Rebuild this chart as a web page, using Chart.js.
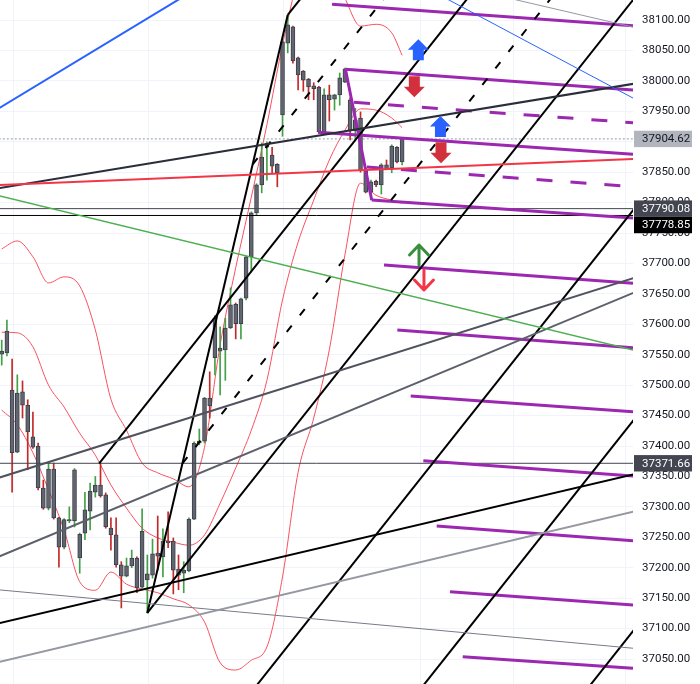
<!DOCTYPE html>
<html><head><meta charset="utf-8">
<script src="https://cdn.jsdelivr.net/npm/chart.js@4.4.0/dist/chart.umd.min.js"></script>
<style>html,body{margin:0;padding:0;background:#fff;}#wrap{width:700px;height:684px;position:relative;}</style>
</head><body><div id="wrap"><canvas id="c"></canvas></div>
<script>
// ---- candles (index = bar number) ----
const opens  = [37551,37553,37492,37390,37489,37467,37415,37400,37331,37298,37362,37282,37234,37277,37277,37216,37257,37293,37324,37336,
                37320,37265,37254,37205,37186,37203,37216,37168,37180,37188,37224,37218,37244,37244,37198,37191,37195,37280,37405,37408,
                37479,37545,37556,37558,37594,37633,37601,37643,37711,37783,37829,37891,37878,37863,37944,38062,38089,38038,38016,38003,
                37992,37990,37916,37977,37970,37977,37998,37969,37918,37939,37854,37817,37835,37829,37862,37857,37891,37867];
const highs  = [37574,37607,37543,37517,37507,37476,37456,37405,37344,37372,37372,37283,37281,37300,37363,37257,37324,37339,37350,37371.66,
                37323,37282,37282,37210,37216,37229,37218,37297,37221,37247,37285,37264,37292,37249,37221,37210,37282,37407,37428,37480,
                37522,37614,37596,37610,37660,37635,37643,37712,37785,37831,37898,37900,37891,37864,38066,38108.3,38090,38039,38017,38004,
                37997,37991,37987,37993,37978,38013,38021,37972,37955,37949,37857,37837,37837,37864,37870,37895,37892,37905.5];
const lows   = [37533,37548,37324,37389,37446,37361,37396,37328,37296,37295,37280,37201,37231,37274,37267,37191,37246,37262,37316,37316,
                37265,37229,37201,37134,37185,37200,37159,37167,37125.7,37183,37196,37185,37233,37157,37164,37159,37193,37279,37402,37405,
                37446,37517,37484,37508,37593,37576,37576,37640,37686,37780,37816,37837,37849,37826,37909,38046,38029,37985,37983,37969,
                37969,37914,37914,37934,37952,37960,37997,37903,37903,37850,37816,37804.3,37826,37814,37854,37849,37865,37862];
const closes = [37556,37589,37389,37487,37467,37423,37398,37331,37298,37362,37282,37234,37279,37279,37361,37255,37295,37326,37336,37318,
                37267,37254,37205,37186,37203,37216,37167,37260,37190,37223,37219,37244,37241,37196,37188,37196,37280,37405,37408,37479,
                37466,37610,37561,37594,37632,37601,37642,37711,37783,37829,37875,37898,37860,37849,38064,38092,38033,38010,38001,37990,
                37987,37916,37977,37969,37977,38005,38020,37918,37936,37852,37817,37834,37829,37862,37855,37893,37867,37904.62];

// ---- bands (sampled at bar numbers) ----
const bandIdx    = [0,3,6,9,12,15,18,21,24,27,30,33,36,39,42,45,48,51,54,57,60,63,66,69,72,75,77];
const upperBand  = [37724,37737,37711,37668,37678,37663,37591,37477,37426,37372,37356,37346,37333,37398,37566,37693,37809,37928,38059,38166,38205,38195,38136,38090,38093,38079,38042];
const middleBand = [37587,37586,37563,37500,37464,37421,37385,37336,37298,37265,37249,37242,37237,37254,37306,37364,37426,37508,37640,37735,37804,37870,37919,37954,37952,37939,37923];
const lowerBand  = [37459,37435,37389,37328,37262,37177,37163,37193,37173,37165,37159,37149,37139,37111,37044,37032,37048,37070,37185,37357,37446,37558,37714,37832,37812,37804,37799];

// ---- axis ----
const yTicks = [37050,37100,37150,37200,37250,37300,37350,37400,37450,37500,37550,37600,37650,37700,37750,37800,37850,37900,37950,38000,38050,38100];
const gridX  = [2.2, 28.1, 54.1, 80.4, 98.3, 119.9];
const priceLabels = [37904.62, 37790.08, 37778.85, 37371.66];

// ---- drawings (bar number, price) ----
const blueTrend      = [[-0.71, 37954], [35.44, 38141]];
const blueThin       = [[85.25, 38136.4], [122.75, 37965.6]];
const grayThinTop    = [[97.75, 38135.5], [122.75, 38085.7]];
const redTrend       = [[-1.29, 37828.6], [122.75, 37872.1]];
const darkTrend      = [[-1.29, 37822.7], [122.75, 37997.0]];
const greenTrend     = [[-1.29, 37812.8], [122.75, 37555.0]];
const grayTrend1     = [[-1.29, 37345.9], [122.75, 37679.4]];
const grayTrend2     = [[-1.29, 37215.8], [122.75, 37656.2]];
const lightGrayTrend = [[-1.29, 37043.6], [122.75, 37294.9]];
const thinGrayTrend  = [[-1.29, 37164.3], [122.75, 37066.7]];
const blackTrend     = [[-1.29, 37107.2], [122.75, 37356.0]];

const purpleTop      = [[63.52, 38125.8], [121.4, 38090.7]];
const purpleUpper    = [[66.1, 38019.0], [121.4, 37985.0]];
const purpleHandle   = [[66.1, 38019.0], [71.15, 37804.3]];
const purpleMidDash  = [[67.75, 37964.8], [121.4, 37931.3]];
const purpleMid      = [[60.83, 37915.5], [121.4, 37879.4]];
const purpleLowDash  = [[70.25, 37858.5], [121.4, 37826.1]];
const purpleLow      = [[71.15, 37804.3], [121.4, 37774.7]];
const levelStartIdx   = [73.52, 76.08, 78.65, 81.08, 83.65, 86.21, 88.65];
const levelStartPrice = [37697.5, 37590.7, 37482.2, 37375.9, 37268.6, 37160.7, 37053.9];
const levelEndPrice   = [37667.4, 37561.6, 37456.4, 37350.8, 37244.4, 37138.8, 37034.8];

const pfIdx   = [18.75, 28, 55];
const pfPrice = [37371.66, lows[28], highs[55]];
const pfLowerLevels = [0.5, 1, 2, 3, 4];
const pfUpperLevels = [0.5, 1];

const arrowIdx   = [80.12, 79.35, 84.37, 84.48, 80.25, 81.2];
const arrowPrice = [38068.3, 37973.0, 37942.3, 37864.6, 37730.3, 37656.4];
const arrowKind  = ['blueUp', 'redDown', 'blueUp', 'redDown', 'greenUpLine', 'redDownLine'];

// ---- build ----
const X_MIN = -0.33, X_MAX = 121.4, Y_MIN = 37009.0, Y_MAX = 38132.9;
const pts = a => a.map(p => ({x: p[0], y: p[1]}));
function seg(points, color, width, dash, order) {
  return {type: 'line', data: pts(points), borderColor: color, borderWidth: width,
          borderDash: dash || [], pointRadius: 0, fill: false, tension: 0, order: order || 1, clip: 0,
          borderCapStyle: 'butt'};
}
const datasets = [];

// bands
[upperBand, middleBand, lowerBand].forEach(b => {
  datasets.push({type: 'line', data: bandIdx.map((x, k) => ({x, y: b[k]})), borderColor: '#f7525f',
    borderWidth: 1, pointRadius: 0, fill: false, cubicInterpolationMode: 'monotone', order: 20, clip: 0});
});

// candles
const bars = opens.map((_, i) => i);
const wickColors = bars.map(i => closes[i] >= opens[i] ? '#43a047' : '#c62828');
datasets.push({type: 'bar', data: bars.map(i => ({x: i, y: [lows[i], highs[i]]})),
  backgroundColor: wickColors, barThickness: 1, grouped: false, order: 12});
datasets.push({type: 'bar', data: bars.map(i => {
    let lo = Math.min(opens[i], closes[i]), hi = Math.max(opens[i], closes[i]);
    if (hi - lo < 1.6) { const m = (hi + lo) / 2; lo = m - 0.8; hi = m + 0.8; }
    return {x: i, y: [lo, hi]};
  }),
  backgroundColor: '#62656f', borderColor: '#3d404a', borderWidth: 1, borderSkipped: false,
  barThickness: 4, grouped: false, order: 11});

// horizontal levels
datasets.push(seg([[X_MIN - 1, priceLabels[0]], [X_MAX + 1, priceLabels[0]]], '#9598a1', 1, [2, 2], 3));
datasets.push(seg([[X_MIN - 1, priceLabels[1]], [X_MAX + 1, priceLabels[1]]], '#434651', 1, [], 3));
datasets.push(seg([[X_MIN - 1, priceLabels[2]], [X_MAX + 1, priceLabels[2]]], '#000000', 1, [], 3));
datasets.push(seg([[X_MIN - 1, priceLabels[3]], [X_MAX + 1, priceLabels[3]]], '#434651', 1, [], 3));

// trend lines
datasets.push(seg(blueTrend, '#2962ff', 2));
datasets.push(seg(blueThin, '#2962ff', 1));
datasets.push(seg(grayThinTop, '#9598a1', 1));
datasets.push(seg(redTrend, '#f23645', 2));
datasets.push(seg(darkTrend, '#2a2e39', 2));
datasets.push(seg(greenTrend, '#4caf50', 1.6));
datasets.push(seg(grayTrend1, '#50535e', 2));
datasets.push(seg(grayTrend2, '#5d606b', 2));
datasets.push(seg(lightGrayTrend, '#9598a1', 2));
datasets.push(seg(thinGrayTrend, '#787b86', 1));
datasets.push(seg(blackTrend, '#000000', 2));

// pitchfork
const P1 = {x: pfIdx[0], y: pfPrice[0]}, P2 = {x: pfIdx[1], y: pfPrice[1]}, P3 = {x: pfIdx[2], y: pfPrice[2]};
const M = {x: (P2.x + P3.x) / 2, y: (P2.y + P3.y) / 2};
const dir = {x: M.x - P1.x, y: M.y - P1.y};
const ray = S => [[S.x, S.y], [S.x + dir.x * 8, S.y + dir.y * 8]];
datasets.push(seg([[P2.x, P2.y], [P3.x, P3.y]], '#000000', 2));
datasets.push(seg(ray(P1), '#000000', 2));
pfLowerLevels.forEach(k => {
  const S = {x: M.x + k * (P2.x - M.x), y: M.y + k * (P2.y - M.y)};
  datasets.push(seg(ray(S), '#000000', 2, k % 1 ? [8, 13] : []));
});
pfUpperLevels.forEach(k => {
  const S = {x: M.x + k * (P3.x - M.x), y: M.y + k * (P3.y - M.y)};
  datasets.push(seg(ray(S), '#000000', 2, k % 1 ? [8, 13] : []));
});

// purple
const PURPLE = '#9c27b0';
[purpleTop, purpleUpper, purpleHandle, purpleMid, purpleLow].forEach(s => datasets.push(seg(s, PURPLE, 3, [], 0)));
[purpleMidDash, purpleLowDash].forEach(s => datasets.push(seg(s, PURPLE, 3, [16, 18], 0)));
levelStartIdx.forEach((x, k) => datasets.push(seg([[x, levelStartPrice[k]], [X_MAX, levelEndPrice[k]]], PURPLE, 3, [], 0)));

// ---- plugins ----
const gridPlugin = {
  id: 'vgrid',
  beforeDatasetsDraw(chart) {
    const {ctx, chartArea: a, scales: {x}} = chart;
    ctx.save(); ctx.strokeStyle = '#f0f3fa'; ctx.lineWidth = 1;
    gridX.forEach(v => { const px = Math.round(x.getPixelForValue(v)) + 0.5;
      ctx.beginPath(); ctx.moveTo(px, a.top); ctx.lineTo(px, a.bottom); ctx.stroke(); });
    ctx.restore();
  }
};
const overlayPlugin = {
  id: 'overlay',
  afterDatasetsDraw(chart) {
    const {ctx, scales: {x, y}} = chart;
    ctx.save();
    arrowIdx.forEach((v, k) => {
      const px = x.getPixelForValue(v), py = y.getPixelForValue(arrowPrice[k]);
      const kind = arrowKind[k];
      if (kind === 'blueUp' || kind === 'redDown') {
        const s = kind === 'blueUp' ? 1 : -1;
        ctx.fillStyle = kind === 'blueUp' ? '#2962ff' : '#d1303c';
        ctx.beginPath();
        ctx.moveTo(px, py);
        ctx.lineTo(px + 10.5, py + s * 10.5);
        ctx.lineTo(px + 5.5, py + s * 10.5);
        ctx.lineTo(px + 5.5, py + s * 21);
        ctx.lineTo(px - 5.5, py + s * 21);
        ctx.lineTo(px - 5.5, py + s * 10.5);
        ctx.lineTo(px - 10.5, py + s * 10.5);
        ctx.closePath(); ctx.fill();
      } else {
        const s = kind === 'greenUpLine' ? 1 : -1;
        ctx.strokeStyle = kind === 'greenUpLine' ? '#388e3c' : '#f23645';
        ctx.lineWidth = 3; ctx.lineCap = 'round'; ctx.lineJoin = 'round';
        ctx.beginPath();
        ctx.moveTo(px - 9.5, py + s * 10); ctx.lineTo(px, py); ctx.lineTo(px + 9.5, py + s * 10);
        ctx.moveTo(px, py); ctx.lineTo(px, py + s * 20);
        ctx.stroke();
      }
    });
    ctx.restore();
  },
  afterDraw(chart) {
    const {ctx, chartArea: a, scales: {y}} = chart;
    const styles = [['#b2b5be', '#131722'], ['#434651', '#ffffff'], ['#000000', '#ffffff'], ['#434651', '#ffffff']];
    ctx.save();
    ctx.font = '11.5px Roboto';
    ctx.textBaseline = 'middle'; ctx.textAlign = 'left';
    let prevBottom = -1e9;
    const h = 16.4;
    priceLabels.forEach((v, k) => {
      const py = y.getPixelForValue(v);
      let top = py - h / 2;
      if (top < prevBottom) top = prevBottom;
      prevBottom = top + h;
      ctx.fillStyle = styles[k][0];
      ctx.fillRect(a.right + 1, top, 58, h);
      ctx.fillStyle = styles[k][1];
      ctx.fillText(v.toFixed(2), a.right + 9, top + h / 2 + 0.5);
    });
    ctx.restore();
  }
};

new Chart(document.getElementById('c'), {
  type: 'bar',
  data: {datasets},
  options: {
    responsive: true, maintainAspectRatio: false, animation: false,
    layout: {padding: 0},
    plugins: {legend: {display: false}, tooltip: {enabled: false}},
    events: [],
    scales: {
      x: {type: 'linear', display: false, min: X_MIN, max: X_MAX, offset: false},
      y: {type: 'linear', position: 'right', min: Y_MIN, max: Y_MAX,
          afterBuildTicks: s => { s.ticks = yTicks.map(v => ({value: v})); },
          afterFit: s => { s.width = 67; s.paddingTop = 0; s.paddingBottom = 0; },
          grid: {color: '#f0f3fa', drawTicks: false},
          border: {display: false},
          ticks: {autoSkip: false, padding: 9, color: '#131722', font: {family: 'Roboto', size: 11.5},
                  callback: v => Number(v).toFixed(2)}}
    }
  },
  plugins: [gridPlugin, overlayPlugin]
});
</script></body></html>
